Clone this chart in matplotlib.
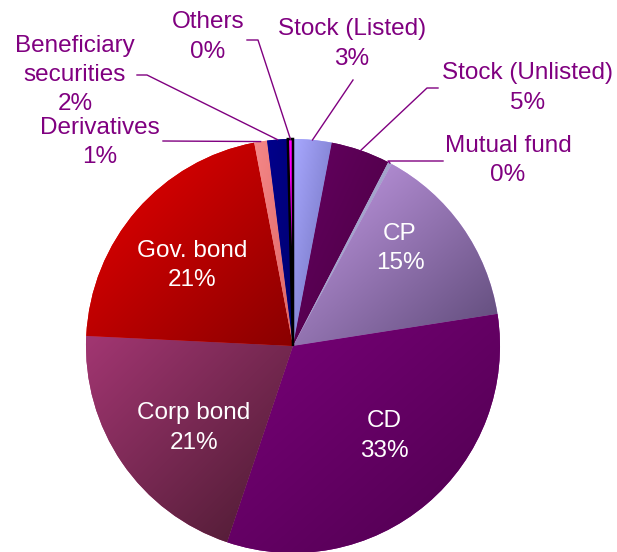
import numpy as np
import matplotlib
matplotlib.use("Agg")
import matplotlib.pyplot as plt
from matplotlib.colors import to_rgb

# ---- data ----
categories = ["Stock (Listed)", "Stock (Unlisted)", "Mutual fund", "CP", "CD",
              "Corp bond", "Gov. bond", "Derivatives", "Beneficiary\nsecurities", "Others"]
values = [3.0, 4.6, 0.3, 14.6, 32.6, 20.6, 21.2, 1.0, 1.6, 0.4]

# gradient colours (light, dark)
grad_colors = [("#a8a8ff", "#6a6ab4"), ("#660062", "#48003f"), ("#b4b4dc", "#9494bc"),
               ("#c69ce8", "#5e4a78"), ("#7a007a", "#4e004e"), ("#a23672", "#4a1a30"),
               ("#ea0000", "#8a0000"), ("#f48888", "#e06666"), ("#00008c", "#000070"),
               ("#ff00ff", "#ff00ff")]

W, H = 617, 552
fig = plt.figure(figsize=(W / 100, H / 100), dpi=100)
ax = fig.add_axes([0, 0, 1, 1])

def px(x, y):
    return (x, H - y)

cx, cy = px(293, 346)
R = 207

wedges, _ = ax.pie(values, startangle=90, counterclock=False, center=(cx, cy),
                   radius=R, colors=[c[0] for c in grad_colors],
                   wedgeprops=dict(linewidth=0), frame=True)

# gradient fill per wedge
n = 64
ii, jj = np.mgrid[0:n, 0:n]
tt = (ii + jj) / (2 * (n - 1))
for w, (c1, c2) in zip(wedges, grad_colors):
    th = np.linspace(np.radians(w.theta1), np.radians(w.theta2), 50)
    xs = np.concatenate([[cx], cx + R * np.cos(th)])
    ys = np.concatenate([[cy], cy + R * np.sin(th)])
    a, b = np.array(to_rgb(c1)), np.array(to_rgb(c2))
    img = a[None, None, :] * (1 - tt[..., None]) + b[None, None, :] * tt[..., None]
    im = ax.imshow(img, extent=(xs.min(), xs.max(), ys.min(), ys.max()),
                   origin="upper", interpolation="bilinear", zorder=1.5)
    im.set_clip_path(w)

# Others wedge outlined in black
wedges[-1].set_edgecolor("black")
wedges[-1].set_linewidth(1.8)
wedges[-1].set_zorder(3)
wedges[-1].set_facecolor(grad_colors[-1][0])

ax.set_xlim(0, W)
ax.set_ylim(0, H)
ax.set_aspect("equal")
ax.axis("off")

total = sum(values)
pcts = [f"{round(v / total * 100)}%" for v in values]
fs = 17.5
ls = 1.42
font = "Liberation Sans"
purple = "#800080"

def anchor(i):
    w = wedges[i]
    ang = np.radians((w.theta1 + w.theta2) / 2)
    return cx + R * np.cos(ang), cy + R * np.sin(ang)

# outside labels: index, text centre (px), leader start (px), elbow (px)
outside = [
    (9, (208, 37), (247, 40), (258, 40)),
    (0, (352, 44), None, (353, 80)),
    (1, (528, 88), (438, 88), (427, 88)),
    (2, (508, 160.5), (443, 161), (388, 161)),
    (8, (75, 75), (137, 75), (147, 75)),
    (7, (100, 142.5), (163, 141), None),
]
for i, tpos, start, elbow in outside:
    ax.text(*px(*tpos), f"{categories[i]}\n{pcts[i]}", ha="center", va="center",
            fontsize=fs, family=font, color=purple, linespacing=ls)
    pts = []
    if start is not None:
        pts.append(px(*start))
    if elbow is not None:
        pts.append(px(*elbow))
    pts.append(anchor(i))
    pts = np.array(pts)
    ax.plot(pts[:, 0], pts[:, 1], color=purple, lw=1.0, zorder=4)

# inside labels
inside = [(3, (400, 248.5)), (4, (384, 436)), (5, (194, 428)), (6, (192, 265.5))]
for i, tpos in inside:
    ax.text(*px(*tpos), f"{categories[i]}\n{pcts[i]}", ha="center", va="center",
            fontsize=fs, family=font, color="white", linespacing=ls, zorder=5)

fig.savefig("out.png", dpi=100)
